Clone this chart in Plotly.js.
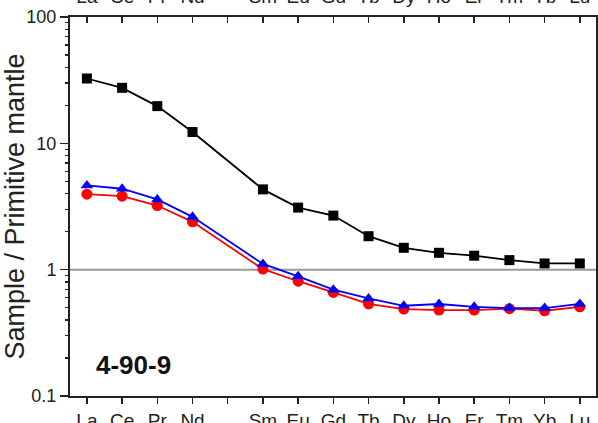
<!DOCTYPE html>
<html>
<head>
<meta charset="utf-8">
<script src="https://cdn.plot.ly/plotly-3.0.1.min.js"></script>
<style>html,body{margin:0;padding:0;background:#fff;}#chart{width:598px;height:423px;}</style>
</head>
<body>
<div id="chart"></div>
<script>
// Categories (Pm is an empty slot on the axis)
const axisCategories = ['La','Ce','Pr','Nd','Pm','Sm','Eu','Gd','Tb','Dy','Ho','Er','Tm','Yb','Lu'];
const tickLabels     = ['La','Ce','Pr','Nd','',  'Sm','Eu','Gd','Tb','Dy','Ho','Er','Tm','Yb','Lu'];
const elements       = ['La','Ce','Pr','Nd','Sm','Eu','Gd','Tb','Dy','Ho','Er','Tm','Yb','Lu'];

// Sample / primitive mantle values
const blackSquares = [32.6, 27.5, 19.7, 12.3, 4.32, 3.1, 2.68, 1.84, 1.49, 1.36, 1.29, 1.19, 1.12, 1.12];
const redCircles   = [3.96, 3.82, 3.22, 2.39, 1.01, 0.81, 0.66, 0.535, 0.488, 0.479, 0.479, 0.491, 0.473, 0.508];
const blueTriangles= [4.64, 4.37, 3.6, 2.62, 1.11, 0.885, 0.694, 0.592, 0.518, 0.535, 0.508, 0.497, 0.497, 0.535];

const yTickVals = [0.1, 1, 10, 100];
const yTickText = ['0.1', '1', '10', '100'];
const referenceLevel = 1;
const sampleLabel = '4-90-9';

const minorVals = [];
for (let d = -1; d < 2; d++) for (let m = 2; m <= 9; m++) minorVals.push(m * Math.pow(10, d));

const FONT = 'Liberation Sans, Arial, sans-serif';

const traces = [
  {x: elements, y: blackSquares, type: 'scatter', mode: 'lines+markers',
   line: {color: '#000000', width: 1.8}, marker: {symbol: 'square', size: 10, color: '#000000'}},
  {x: elements, y: redCircles, type: 'scatter', mode: 'lines+markers',
   line: {color: '#ff0000', width: 1.8}, marker: {symbol: 'circle', size: 11, color: '#ff0000'}},
  {x: elements, y: blueTriangles, type: 'scatter', mode: 'lines+markers',
   line: {color: '#0000ff', width: 1.8}, marker: {symbol: 'triangle-up', size: 11, color: '#0000ff'}},
  // invisible companion so the top (mirrored) category axis is drawn
  {x: elements, y: blackSquares, xaxis: 'x2', type: 'scatter', mode: 'markers',
   marker: {opacity: 0, size: 1}, hoverinfo: 'skip', showlegend: false}
];

const xRange = [-0.48, 14.46];

const layout = {
  width: 598, height: 423,
  margin: {l: 70, r: 2, t: 17, b: 27, pad: 0},
  paper_bgcolor: '#ffffff', plot_bgcolor: '#ffffff',
  showlegend: false,
  font: {family: FONT, color: '#222222'},
  xaxis: {
    type: 'category', categoryorder: 'array', categoryarray: axisCategories,
    tickmode: 'array', tickvals: axisCategories, ticktext: tickLabels,
    range: xRange, showgrid: false, zeroline: false,
    showline: true, linecolor: '#222', linewidth: 2, mirror: true,
    ticks: 'outside', ticklen: 6, tickwidth: 1.5, tickcolor: '#222',
    tickfont: {size: 19, family: FONT, color: '#222'}
  },
  xaxis2: {
    type: 'category', categoryorder: 'array', categoryarray: axisCategories,
    tickmode: 'array', tickvals: axisCategories, ticktext: tickLabels,
    overlaying: 'x', side: 'top', anchor: 'y',
    range: xRange, showgrid: false, zeroline: false, showline: false,
    ticks: 'inside', ticklen: 6, tickwidth: 1.5, tickcolor: '#222',
    ticklabelstandoff: 9,
    tickfont: {size: 19, family: FONT, color: '#222'}
  },
  yaxis: {
    type: 'log', range: [-1, 2],
    tickmode: 'array', tickvals: yTickVals, ticktext: yTickText,
    showgrid: false, zeroline: false,
    showline: true, linecolor: '#222', linewidth: 2, mirror: true,
    ticks: 'outside', ticklen: 8, tickwidth: 1.5, tickcolor: '#222',
    tickfont: {size: 18, family: FONT, color: '#222'},
    minor: {tickmode: 'array', tickvals: minorVals, ticks: 'outside', ticklen: 3, tickwidth: 1.2, tickcolor: '#222', showgrid: false},
    title: {text: 'Sample / Primitive mantle', font: {size: 27, family: FONT, color: '#222'}, standoff: 8}
  },
  shapes: [{type: 'line', xref: 'paper', yref: 'y', x0: 0, x1: 1, y0: referenceLevel, y1: referenceLevel,
            line: {color: '#9a9a9a', width: 2}, layer: 'below'}],
  annotations: [{text: '<b>' + sampleLabel + '</b>', xref: 'paper', yref: 'paper', x: 0.045, y: 0.082,
                 xanchor: 'left', yanchor: 'middle', showarrow: false,
                 font: {size: 26, family: FONT, color: '#111'}}]
};

Plotly.newPlot('chart', traces, layout, {staticPlot: true, displayModeBar: false});
</script>
</body>
</html>
